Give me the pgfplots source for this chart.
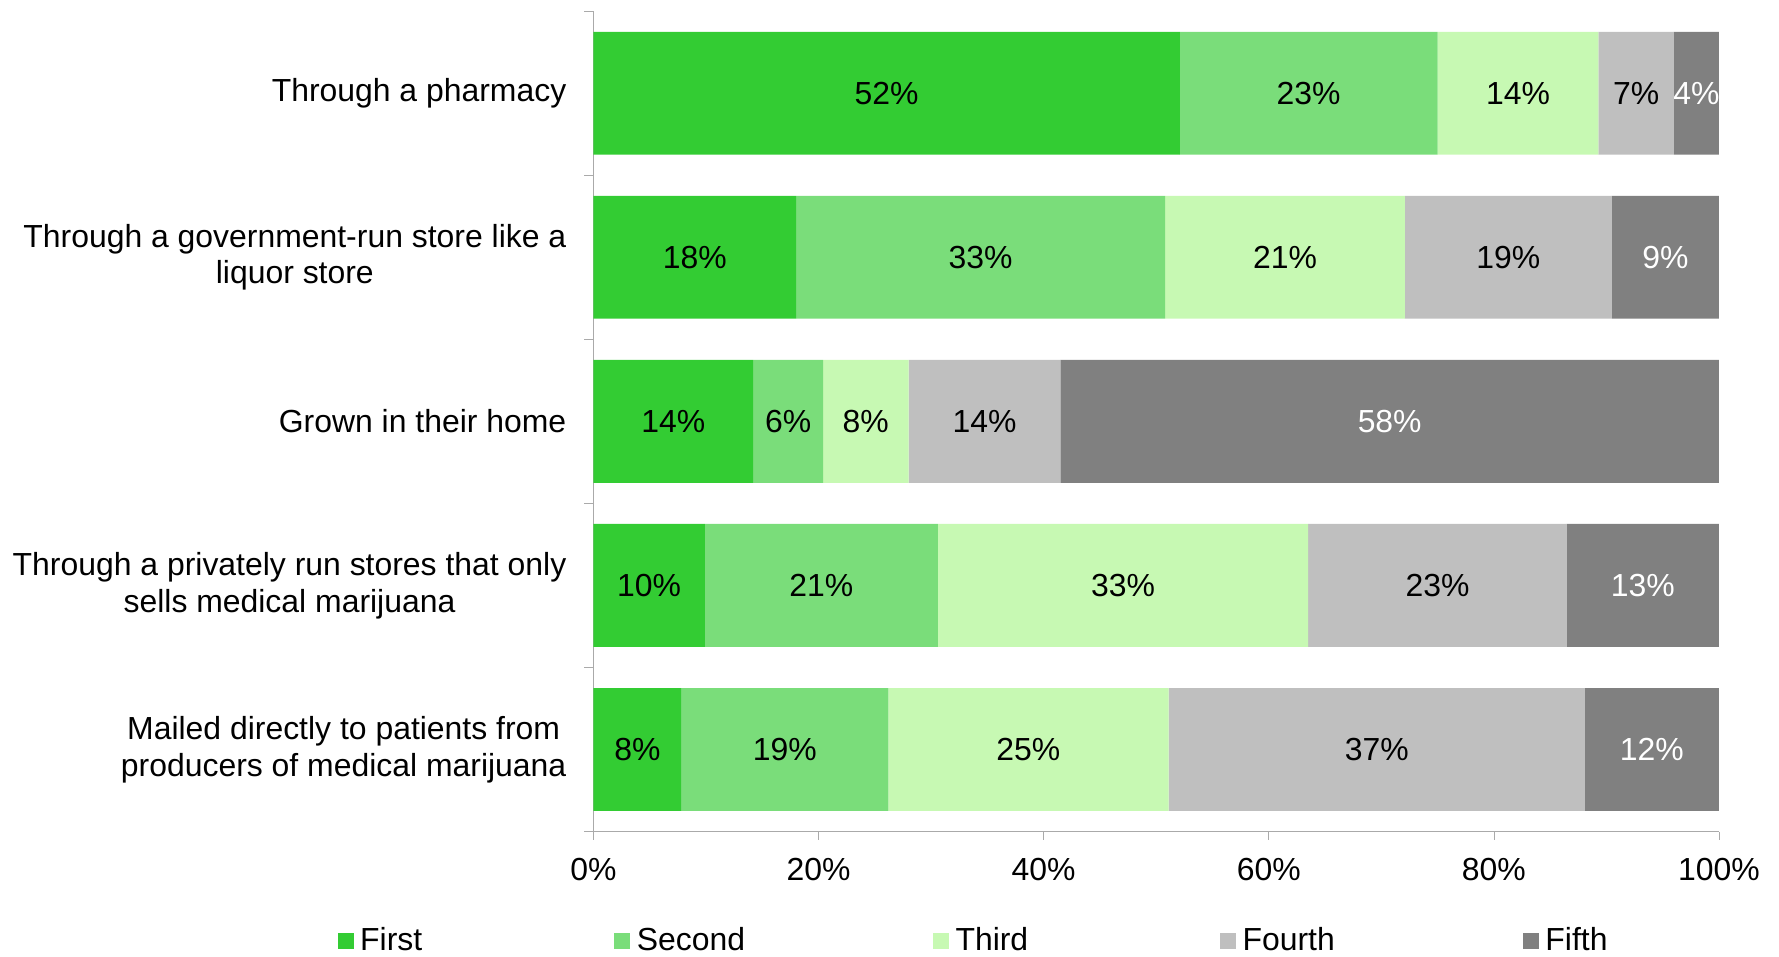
\documentclass[border=0pt]{standalone}
\usepackage{pgfplots}
\pgfplotsset{compat=1.18}
\usepackage{pgfplotstable}
\usepackage{fontspec}
\setmainfont{Liberation Sans}
\definecolor{cFirst}{RGB}{51,204,51}
\definecolor{cSecond}{RGB}{122,221,122}
\definecolor{cThird}{RGB}{199,249,179}
\definecolor{cFourth}{RGB}{191,191,191}
\definecolor{cFifth}{RGB}{128,128,128}
\definecolor{axisgray}{RGB}{170,170,170}

% y: 4 = Through a pharmacy (top) ... 0 = Mailed (bottom)
\pgfplotstableread{
y x label
4 52.1 52
3 18.0 18
2 14.2 14
1 9.9 10
0 7.8 8
}\first
\pgfplotstableread{
y x label
4 22.9 23
3 32.8 33
2 6.2 6
1 20.7 21
0 18.4 19
}\second
\pgfplotstableread{
y x label
4 14.3 14
3 21.3 21
2 7.6 8
1 32.9 33
0 24.9 25
}\third
\pgfplotstableread{
y x label
4 6.7 7
3 18.4 19
2 13.5 14
1 23.0 23
0 37.0 37
}\fourth
\pgfplotstableread{
y x label
4 4.0 4
3 9.5 9
2 58.5 58
1 13.5 13
0 11.9 12
}\fifth

\begin{document}
\fontsize{12pt}{14.4pt}\selectfont
\begin{tikzpicture}[font=\fontsize{12pt}{14.4pt}\selectfont]
\begin{axis}[
  name=main,
  at={(0,0)}, anchor=south west,
  scale only axis,
  width=423.1pt, height=308.4pt,
  xbar stacked,
  bar width=46.2pt,
  xmin=0, xmax=100,
  ymin=-0.5, ymax=4.5,
  axis x line*=bottom, axis y line*=left,
  axis line style={axisgray},
  xtick={0,20,40,60,80,100},
  xticklabels={0\%,20\%,40\%,60\%,80\%,100\%},
  tick align=outside,
  major tick length=3pt,
  xtick style={draw=axisgray},
  xticklabel style={yshift=-3pt},
  ytick={0,1,2,3,4},
  yticklabels={{Mailed directly to patients from\\producers of medical marijuana},
               {Through a privately run stores that only\\sells medical marijuana},
               {Grown in their home},
               {Through a government-run store like a\\liquor store},
               {Through a pharmacy}},
  yticklabel style={align=center, xshift=-3pt, font=\fontsize{12pt}{13.8pt}\selectfont},
  ytick style={draw=none},
  extra y ticks={-0.5,0.5,1.5,2.5,3.5,4.5},
  extra y tick labels={},
  extra y tick style={ytick style={draw=axisgray}, major tick length=3.5pt, tick align=outside},
  point meta=explicit symbolic,
  nodes near coords={\pgfplotspointmeta\%},
  every node near coord/.append style={anchor=center, font=\fontsize{12pt}{14.4pt}\selectfont},
  legend columns=5,
  legend style={draw=none, at={(-0.2278,-0.134)}, anchor=west, inner sep=0pt,
                nodes={inner sep=1pt}},
  legend image code/.code={\fill[#1] (0pt,-3pt) rectangle (6pt,3pt);},
]
\addplot[fill=cFirst, draw=none] table[x=x, y=y, meta=label] {\first};
\addplot[fill=cSecond, draw=none] table[x=x, y=y, meta=label] {\second};
\addplot[fill=cThird, draw=none] table[x=x, y=y, meta=label] {\third};
\addplot[fill=cFourth, draw=none] table[x=x, y=y, meta=label] {\fourth};
\addplot[fill=cFifth, draw=none, every node near coord/.append style={text=white}] table[x=x, y=y, meta=label] {\fifth};
\legend{\hspace{1.5pt}\makebox[94.5pt][l]{First},\hspace{1.5pt}\makebox[110.3pt][l]{Second},\hspace{1.5pt}\makebox[98.4pt][l]{Third},\hspace{1.5pt}\makebox[104.4pt][l]{Fourth},\hspace{1.5pt}\makebox[30pt][l]{Fifth}}
\end{axis}
\pgfresetboundingbox
\path[use as bounding box] (-223.1pt,-46.8pt) rectangle (445.7pt,312.6pt);
\end{tikzpicture}
\end{document}
